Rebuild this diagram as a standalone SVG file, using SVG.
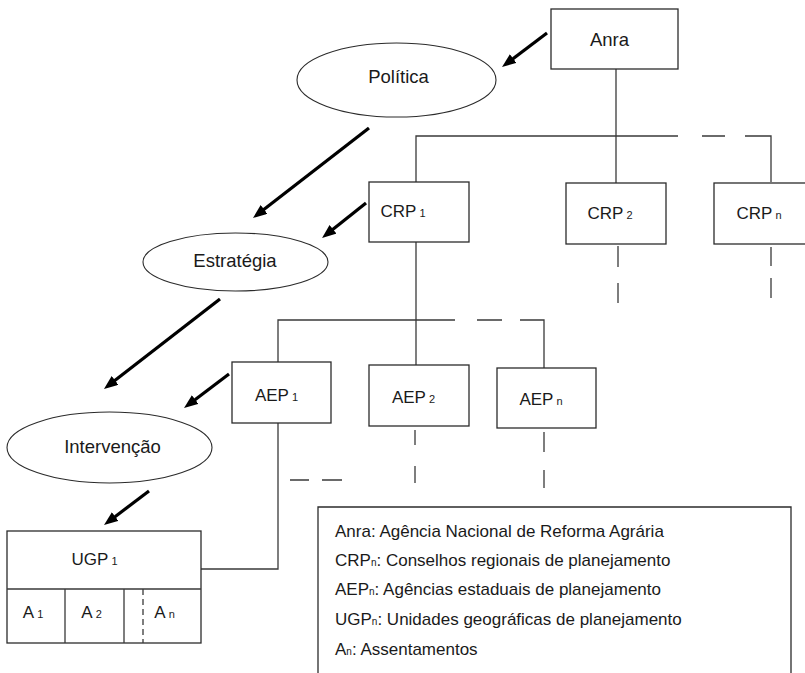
<svg xmlns="http://www.w3.org/2000/svg" width="805" height="673" viewBox="0 0 805 673">
<defs>
<style>
.box{fill:#fff;stroke:#2b2b2b;stroke-width:1.3}
.ell{fill:#fff;stroke:#2b2b2b;stroke-width:1.1}
.ln{fill:none;stroke:#3a3a3a;stroke-width:1.3}
.arr{stroke:#000;stroke-width:3.2;fill:none;marker-end:url(#ah)}
.t{font-family:"Liberation Sans",Arial,sans-serif;fill:#1a1a1a;text-anchor:middle}
.w{font-size:18.5px}
.c{font-size:17px}
.s{font-size:11px}
.lg{font-family:"Liberation Sans",Arial,sans-serif;fill:#1a1a1a;font-size:17px}
.ls{font-size:10px}
</style>
<marker id="ah" viewBox="0 0 14 11" markerWidth="14" markerHeight="11" refX="6" refY="5.5" orient="auto" markerUnits="userSpaceOnUse">
<path d="M0,0 L14,5.5 L0,11 z" fill="#000"/>
</marker>
</defs>
<rect width="805" height="673" fill="#fff"/>

<g id="connectors">
<path class="ln" d="M616,69 V183"/>
<path class="ln" d="M416,182 V136 H678"/>
<path class="ln" d="M702,136 H725 M745,136 H771 V182"/>
<path class="ln" d="M618,246 V267 M618,283 V303"/>
<path class="ln" d="M771,247 V266 M771,278 V298"/>
<path class="ln" d="M416,242 V365"/>
<path class="ln" d="M278,362 V320 H455"/>
<path class="ln" d="M477,320 H502 M520,320 H544 V368"/>
<path class="ln" d="M415,430 V445 M415,466 V483"/>
<path class="ln" d="M544,432 V452 M544,470 V488"/>
<path class="ln" d="M278,423 V569 H201"/>
<path class="ln" d="M290,480 H309 M322,480 H342"/>
<line class="arr" x1="547" y1="33" x2="508.4" y2="62.2"/>
<line class="arr" x1="369" y1="128" x2="259.3" y2="213.1"/>
<line class="arr" x1="366" y1="203" x2="328.3" y2="233"/>
<line class="arr" x1="220" y1="299" x2="110.3" y2="384.1"/>
<line class="arr" x1="229" y1="374" x2="190.4" y2="403.2"/>
<line class="arr" x1="149" y1="491" x2="110.4" y2="520.2"/>
</g>

<g id="anra">
<rect class="box" x="551" y="9" width="127" height="60"/>
<text class="t w" x="609.5" y="46">Anra</text>
</g>
<g id="politica">
<ellipse class="ell" cx="396.5" cy="80" rx="99.5" ry="37"/>
<text class="t w" x="398.5" y="83">Política</text>
</g>
<g id="estrategia">
<ellipse class="ell" cx="235.5" cy="262" rx="92.5" ry="29"/>
<text class="t w" x="235" y="267">Estratégia</text>
</g>
<g id="intervencao">
<ellipse class="ell" cx="109.5" cy="447.5" rx="102.5" ry="35.5"/>
<text class="t w" x="112.5" y="453">Intervenção</text>
</g>
<g id="crp1">
<rect class="box" x="369" y="182" width="100" height="60"/>
<text class="t c" x="403" y="217">CRP<tspan class="s"> 1</tspan></text>
</g>
<g id="crp2">
<rect class="box" x="566" y="183" width="100" height="61"/>
<text class="t c" x="610" y="219">CRP<tspan class="s"> 2</tspan></text>
</g>
<g id="crpn">
<rect class="box" x="714" y="183" width="100" height="61"/>
<text class="t c" x="759" y="219">CRP<tspan class="s"> n</tspan></text>
</g>
<g id="aep1">
<rect class="box" x="232" y="362" width="99" height="61"/>
<text class="t c" x="276.5" y="401">AEP<tspan class="s"> 1</tspan></text>
</g>
<g id="aep2">
<rect class="box" x="369" y="365" width="100" height="61"/>
<text class="t c" x="413.5" y="403">AEP<tspan class="s"> 2</tspan></text>
</g>
<g id="aepn">
<rect class="box" x="497" y="368" width="99" height="60"/>
<text class="t c" x="541" y="405">AEP<tspan class="s"> n</tspan></text>
</g>
<g id="ugp1">
<rect class="box" x="7" y="531" width="194" height="112"/>
<path class="ln" d="M7,589 H201 M65,589 V643 M124,589 V643"/>
<path class="ln" d="M143,589 V643" stroke-dasharray="6,4"/>
<text class="t c" x="94.5" y="565">UGP<tspan class="s"> 1</tspan></text>
<text class="t c" x="33" y="618">A<tspan class="s"> 1</tspan></text>
<text class="t c" x="91.5" y="618">A<tspan class="s"> 2</tspan></text>
<text class="t c" x="164.5" y="618">A<tspan class="s"> n</tspan></text>
</g>
<g id="legend">
<path class="box" d="M318,675 V507 H791 V675" fill="#fff"/>
<text class="lg" x="335" y="537">Anra: Agência Nacional de Reforma Agrária</text>
<text class="lg" x="335" y="566">CRP<tspan class="ls">n</tspan>: Conselhos regionais de planejamento</text>
<text class="lg" x="335" y="595">AEP<tspan class="ls">n</tspan>: Agências estaduais de planejamento</text>
<text class="lg" x="335" y="625">UGP<tspan class="ls">n</tspan>: Unidades geográficas de planejamento</text>
<text class="lg" x="335" y="655">A<tspan class="ls">n</tspan>: Assentamentos</text>
</g>
</svg>
